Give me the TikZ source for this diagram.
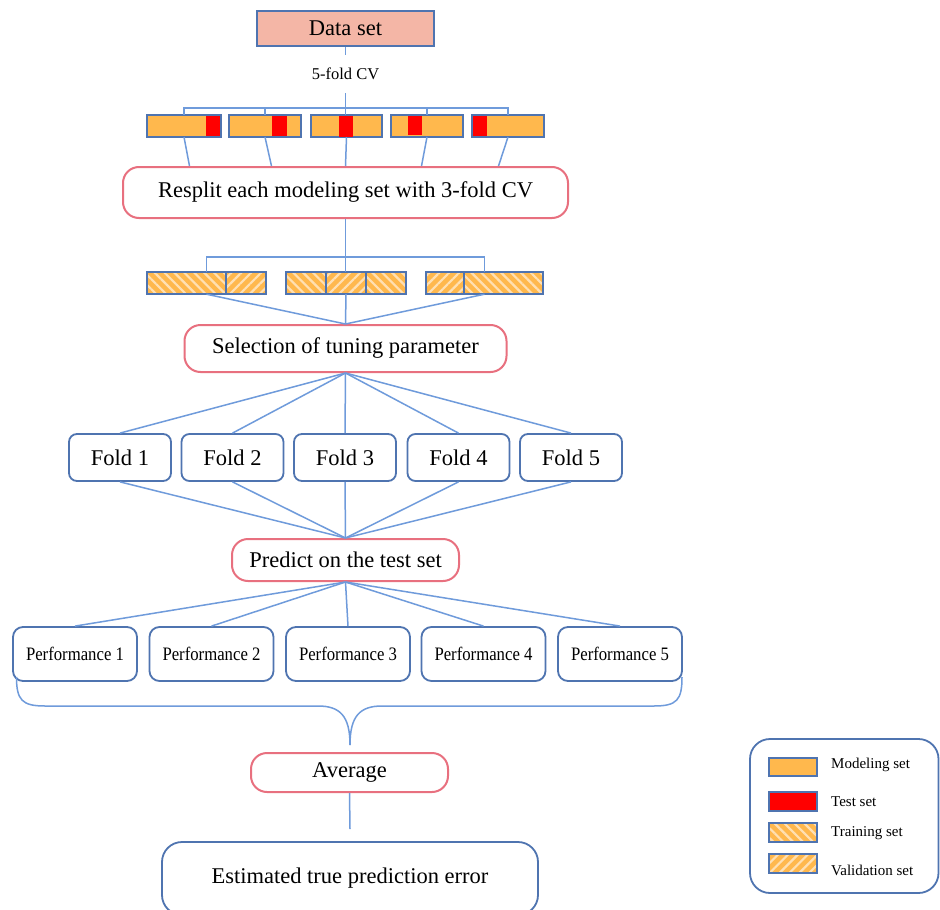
\documentclass[tikz,border=0pt]{standalone}
\usepackage{fontspec}
\setmainfont{Liberation Serif}
\newfontfamily\perffont[FakeStretch=0.88]{Liberation Serif}
\usetikzlibrary{patterns.meta,calc,fit}

\definecolor{boxblue}{HTML}{4F74B0}
\definecolor{linkblue}{HTML}{6F9BDB}
\definecolor{stepred}{HTML}{E8707F}
\definecolor{datafill}{HTML}{F4B6A6}
\definecolor{modorange}{HTML}{FFB84D}
\definecolor{testred}{HTML}{FF0000}
\definecolor{stripe}{HTML}{FFE0B3}

\tikzset{
  big/.style={font=\fontsize{22.5}{27}\selectfont},
  stepbox/.style={big, draw=stepred, line width=2pt, rounded corners=16pt, fill=white, inner sep=0pt},
  bluebox/.style={draw=boxblue, line width=1.8pt, fill=white, inner sep=0pt},
  foldbox/.style={bluebox, big, rounded corners=8pt, minimum width=102, minimum height=47},
  perfbox/.style={bluebox, rounded corners=10pt, minimum width=124, minimum height=54,
    font=\perffont\fontsize{19}{22}\selectfont},
  bar/.style={draw=boxblue, line width=1.4pt, fill=modorange, minimum height=22, inner sep=0pt, outer sep=0pt},
  train/.style={draw=boxblue, line width=1.4pt, minimum height=22, inner sep=0pt, outer sep=0pt,
    preaction={fill=modorange}, pattern={Lines[angle=-45,distance=7pt,line width=2.2pt]}, pattern color=stripe},
  valid/.style={draw=boxblue, line width=1.4pt, minimum height=22, inner sep=0pt, outer sep=0pt,
    preaction={fill=modorange}, pattern={Lines[angle=45,distance=7pt,line width=2.2pt]}, pattern color=stripe},
  conn/.style={draw=linkblue, line width=1.5pt},
  keytext/.style={font=\fontsize{15}{18}\selectfont, anchor=west, inner sep=0pt},
}

\begin{document}
\begin{tikzpicture}[x=1pt,y=-1pt]
    \useasboundingbox (0,0) rectangle (940,910);
    \fill[white] (0,0) rectangle (940,910);
    \clip (0,0) rectangle (940,910);

    % data set and outer 5-fold split
    \node[bluebox, big, fill=datafill, minimum width=177, minimum height=35] (data) at (345.5,28.5) {Data set};
    \node[inner sep=0pt, minimum height=38, font=\fontsize{16.5}{20}\selectfont] (cv) at (345.5,74) {5-fold CV};
    \node[bar, minimum width=74] (m1) at (184,126) {};
    \node[bar, minimum width=72] (m2) at (265,126) {};
    \node[bar, minimum width=71] (m3) at (346.5,126) {};
    \node[bar, minimum width=72] (m4) at (427,126) {};
    \node[bar, minimum width=72] (m5) at (508,126) {};
    \fill[testred] (206,116) rectangle (220.3,136);
    \fill[testred] (272,116) rectangle (287,136);
    \fill[testred] (339,116) rectangle (353,137);
    \fill[testred] (408,116) rectangle (422,134.5);
    \fill[testred] (472.7,116) rectangle (487,136);

    \draw[conn] (data.south) -- (cv.north);
    \draw[conn] (cv.south) -- (cv.south |- m3.north);
    \draw[conn] (m1.north) -- ++(0,-7) -| (m5.north);
    \draw[conn] (m2.north) -- ++(0,-7);
    \draw[conn] (m4.north) -- ++(0,-7);

    \node[stepbox, minimum width=445, minimum height=51] (resplit) at (345.5,192.5) {Resplit each modeling set with 3-fold CV};
    \foreach \i/\dx in {1/-156,2/-74,3/0,4/76,5/153}
        \draw[conn] (m\i.south) -- ($(resplit.north)+(\dx,0)$);

    % inner 3-fold split
    \node[train, minimum width=79] (s11) at (186.5,283) {};
    \node[valid, minimum width=40] (s12) at (246,283) {};
    \node[train, minimum width=40] (s21) at (306,283) {};
    \node[valid, minimum width=40] (s22) at (346,283) {};
    \node[train, minimum width=40] (s23) at (386,283) {};
    \node[valid, minimum width=38] (s31) at (445,283) {};
    \node[train, minimum width=79] (s32) at (503.5,283) {};
    \node[fit=(s11)(s12), inner sep=0pt] (g1) {};
    \node[fit=(s21)(s23), inner sep=0pt] (g2) {};
    \node[fit=(s31)(s32), inner sep=0pt] (g3) {};

    \draw[conn] (resplit.south) -- (resplit.south |- g2.north);
    \draw[conn] (g1.north) -- ++(0,-15) -| (g3.north);

    \node[stepbox, minimum width=322, minimum height=47] (select) at (345.5,348.5) {Selection of tuning parameter};
    \foreach \g in {g1,g2,g3}
        \draw[conn] (\g.south) -- (select.north);

    % folds, prediction and performances
    \foreach \i/\x in {1/120,2/232.5,3/345,4/458.5,5/571}
        \node[foldbox] (f\i) at (\x,457.5) {Fold \i};
    \node[stepbox, minimum width=227, minimum height=42] (predict) at (345.5,560) {Predict on the test set};
    \foreach \i/\x in {1/75,2/211.5,3/348,4/483.5,5/620}
        \node[perfbox] (p\i) at (\x,654) {Performance \i};

    \foreach \i in {1,...,5} {
        \draw[conn] (select.south) -- (f\i.north);
        \draw[conn] (f\i.south) -- (predict.north);
        \draw[conn] (predict.south) -- (p\i.north);
    }

    % brace
    \draw[conn] (16.5,677) .. controls (16.5,700) and (22,706) .. (45,706) -- (318,706)
        .. controls (340,706) and (350,716) .. (350,745);
    \draw[conn] (350,745) .. controls (350,716) and (360,706) .. (382,706) -- (654,706)
        .. controls (677,706) and (682,700) .. (682,677);

    \node[stepbox, minimum width=197, minimum height=39] (avg) at (349.5,772.5) {Average};
    \coordinate (avgend) at (350,829);
    \draw[conn] (avg.south) -- (avgend);
    \node[bluebox, big, rounded corners=20pt, minimum width=376, minimum height=73] (est) at (350,878.5) {Estimated true prediction error};

    % legend
    \draw[draw=boxblue, line width=1.8pt, rounded corners=20pt] (750,739) rectangle (938.5,893);
    \node[bar, minimum width=48, minimum height=18] (kmod) at (793,767) {};
    \node[bar, fill=testred, minimum width=48, minimum height=19] (ktest) at (793,801.5) {};
    \node[train, minimum width=48, minimum height=19] (ktrain) at (793,832.5) {};
    \node[valid, minimum width=48, minimum height=19] (kvalid) at (793,863.5) {};
    \node[keytext] (lmod) at (831,765) {Modeling set};
    \node[keytext] (ltest) at (831,802) {Test set};
    \node[keytext] (ltrain) at (831,833) {Training set};
    \node[keytext] (lvalid) at (831,870) {Validation set};
\end{tikzpicture}
\end{document}
